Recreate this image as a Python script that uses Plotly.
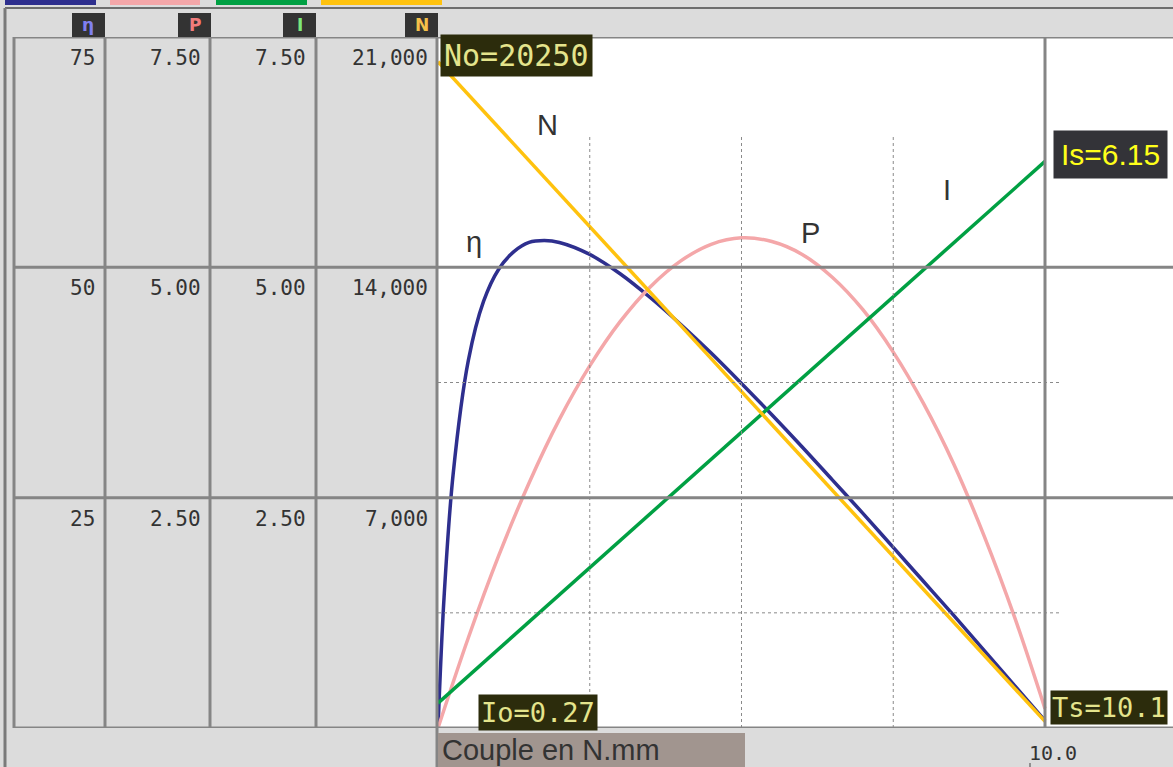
import plotly.graph_objects as go

# ---------------- data ----------------
torque = [0, 0.1, 0.25, 0.5, 0.75, 1, 1.25, 1.5, 1.75, 2, 2.5, 3, 3.5, 4, 4.5,
          5, 5.5, 6, 6.5, 7, 7.5, 8, 8.5, 9, 9.5, 10]
eta_pct = [0, 14.2, 27.6, 39.9, 46.3, 49.8, 51.7, 52.7, 52.9, 52.7, 51.4, 49.3,
           46.7, 43.8, 40.7, 37.4, 34.0, 30.5, 26.9, 23.3, 19.6, 15.9, 12.2,
           8.4, 4.6, 0.8]
torque_p = [0, 0.5, 1, 1.5, 2, 2.5, 3, 3.5, 4, 4.5, 5, 5.5, 6, 6.5, 7, 7.5, 8,
            8.5, 9, 9.5, 10]
power_w = [0, 0.98, 1.87, 2.66, 3.35, 3.93, 4.41, 4.79, 5.07, 5.25, 5.32, 5.28,
           5.14, 4.89, 4.54, 4.08, 3.52, 2.86, 2.08, 1.20, 0.21]
torque_lin = [0, 10]
current_a = [0.27, 6.15]
speed_rpm = [20250, 200]

eta_ticks = [75, 50, 25]
p_ticks = [7.5, 5.0, 2.5]
i_ticks = [7.5, 5.0, 2.5]
n_ticks = [21000, 14000, 7000]
x_tick = 10.0

W, H = 1173, 767
def px(x):
    return x / W
def py(y):
    return 1 - y / H

C_ETA = "#2e2f8e"
C_P = "#f4a7a9"
C_I = "#00a043"
C_N = "#ffc20e"
GRID = "#858585"

fig = go.Figure()
fig.add_trace(go.Scatter(x=torque_p, y=power_w, yaxis="y2", mode="lines",
                         line=dict(color=C_P, width=3.5, shape="spline"), name="P"))
fig.add_trace(go.Scatter(x=torque_lin, y=current_a, yaxis="y3", mode="lines",
                         line=dict(color=C_I, width=3.5), name="I"))
fig.add_trace(go.Scatter(x=torque_lin, y=speed_rpm, yaxis="y4", mode="lines",
                         line=dict(color=C_N, width=3.5), name="N"))
fig.add_trace(go.Scatter(x=torque, y=eta_pct, yaxis="y", mode="lines",
                         line=dict(color=C_ETA, width=3.5, shape="spline"), name="η"))

shapes = []
# top coloured bars
for x0, x1, c in [(5, 96, C_ETA), (110, 200, C_P), (216, 307, C_I), (321, 442, C_N)]:
    shapes.append(dict(type="rect", xref="paper", yref="paper", x0=px(x0), x1=px(x1),
                       y0=py(5), y1=1.0, fillcolor=c, line=dict(width=0), layer="below"))
# outer borders
shapes.append(dict(type="line", xref="paper", yref="paper", x0=px(5), x1=1, y0=py(8), y1=py(8),
                   line=dict(color="#6e6e6e", width=2)))
shapes.append(dict(type="line", xref="paper", yref="paper", x0=px(5), x1=px(5), y0=py(8), y1=0,
                   line=dict(color="#7a7a7a", width=3)))
# table background
shapes.append(dict(type="rect", xref="paper", yref="y", x0=px(14), x1=px(437), y0=0, y1=75,
                   fillcolor="#dcdcdc", line=dict(width=0), layer="below"))
# dotted grid
for v in [12.5, 37.5]:
    shapes.append(dict(type="line", xref="paper", yref="y", x0=px(438), x1=px(1060), y0=v, y1=v,
                       line=dict(color="#8a8a8a", width=1, dash="dot")))
for t in [2.5, 5.0, 7.5]:
    shapes.append(dict(type="line", xref="x", yref="paper", x0=t, x1=t, y0=py(728), y1=py(135),
                       line=dict(color="#8a8a8a", width=1, dash="dot")))
# solid grid
for v in [0, 25, 50, 75]:
    shapes.append(dict(type="line", xref="paper", yref="y", x0=px(14), x1=1, y0=v, y1=v,
                       line=dict(color=GRID, width=3)))
shapes.append(dict(type="line", xref="x", yref="y", x0=10, x1=10, y0=0, y1=75,
                   line=dict(color=GRID, width=3)))
for xc in [14, 105, 210, 316]:
    shapes.append(dict(type="line", xref="paper", yref="y", x0=px(xc), x1=px(xc), y0=0, y1=75,
                       line=dict(color=GRID, width=3)))
shapes.append(dict(type="line", xref="paper", yref="paper", x0=px(437), x1=px(437), y0=0, y1=py(37),
                   line=dict(color=GRID, width=3)))
# small mark under tick label
shapes.append(dict(type="line", xref="paper", yref="paper", x0=px(1030), x1=px(1030), y0=0, y1=py(763),
                   line=dict(color="#444", width=1)))
# header boxes
for x0 in [72, 178, 283, 405]:
    shapes.append(dict(type="rect", xref="paper", yref="paper", x0=px(x0), x1=px(x0 + 33),
                       y0=py(37), y1=py(13), fillcolor="#333333", line=dict(width=0)))
# x axis title box
shapes.append(dict(type="rect", xref="paper", yref="paper", x0=px(438), x1=px(745),
                   y0=0, y1=py(733), fillcolor="#a1958f", line=dict(width=0)))

ann = []
MONO = "DejaVu Sans Mono"
SANS = "Liberation Sans"
cols = [(97, "y", eta_ticks, "{:.0f}"), (203, "y2", p_ticks, "{:.2f}"),
        (308, "y3", i_ticks, "{:.2f}"), (430, "y4", n_ticks, "{:,.0f}")]
for xr, yr, ticks, fmt in cols:
    for v in ticks:
        ann.append(dict(x=px(xr), y=v, xref="paper", yref=yr, text=fmt.format(v),
                        showarrow=False, xanchor="right", yanchor="top", yshift=-7,
                        font=dict(family=MONO, size=21, color="#333333")))
for xc, txt, c in [(88.5, "η", "#8080f0"), (194.5, "P", "#f07c7c"), (299.5, "I", "#7ce87c"),
                   (421.5, "N", "#f5c04a")]:
    ann.append(dict(x=px(xc), y=py(25), xref="paper", yref="paper", text="<b>" + txt + "</b>",
                    showarrow=False, xanchor="center", yanchor="middle",
                    font=dict(family="DejaVu Sans", size=17, color=c)))
ann.append(dict(x=x_tick, y=py(739), xref="x", yref="paper", text="{:.1f}".format(x_tick),
                showarrow=False, xanchor="center", yanchor="top", xshift=8,
                font=dict(family=MONO, size=20, color="#333333")))
ann.append(dict(x=px(441), y=0, xref="paper", yref="paper", text="Couple en N.mm",
                showarrow=False, xanchor="left", yanchor="bottom", borderpad=0,
                font=dict(family=SANS, size=29, color="#333333")))
# value boxes
ann.append(dict(x=0, y=speed_rpm[0], xref="x", yref="y4", text="No=%d" % speed_rpm[0],
                showarrow=False, xanchor="left", yanchor="middle", xshift=2, yshift=6,
                bgcolor="#2c2c0c", borderpad=3,
                font=dict(family=MONO, size=30, color="#e4e48c")))
ann.append(dict(x=torque_lin[-1], y=current_a[-1], xref="x", yref="y3", text="Is=%.2f" % current_a[-1],
                showarrow=False, xanchor="left", yanchor="middle", xshift=8, yshift=7,
                bgcolor="#333338", borderpad=7,
                font=dict(family=SANS, size=30, color="#ffff1a")))
ann.append(dict(x=0, y=current_a[0], xref="x", yref="y3", text="Io=%.2f" % current_a[0],
                showarrow=False, xanchor="left", yanchor="middle", xshift=40, yshift=-9,
                bgcolor="#2c2c0c", borderpad=2,
                font=dict(family=MONO, size=27, color="#e4e48c")))
ann.append(dict(x=torque_lin[-1], y=0, xref="x", yref="y", text="Ts=10.1",
                showarrow=False, xanchor="left", yanchor="bottom", xshift=5, yshift=3,
                bgcolor="#2c2c0c", borderpad=1,
                font=dict(family=MONO, size=27, color="#e4e48c")))
# curve labels
for t, v, txt in [(1.81, 65.4, "N"), (0.59, 52.7, "η"), (6.13, 53.7, "P"), (8.39, 58.4, "I")]:
    ann.append(dict(x=t, y=v, xref="x", yref="y", text=txt, showarrow=False,
                    xanchor="center", yanchor="middle",
                    font=dict(family=SANS, size=29, color="#333333")))

ydom = [py(728), py(37)]
ax = dict(visible=False, showgrid=False, zeroline=False, fixedrange=True)
fig.update_layout(
    width=W, height=H, margin=dict(l=0, r=0, t=0, b=0),
    paper_bgcolor="#dcdcdc", plot_bgcolor="white", showlegend=False,
    xaxis=dict(domain=[px(438), 1], range=[0, (W - 438) / 60.7], **ax),
    yaxis=dict(domain=ydom, range=[0, 75], **ax),
    yaxis2=dict(domain=ydom, range=[0, 7.5], overlaying="y", **ax),
    yaxis3=dict(domain=ydom, range=[0, 7.5], overlaying="y", **ax),
    yaxis4=dict(domain=ydom, range=[0, 21000], overlaying="y", **ax),
    shapes=shapes, annotations=ann,
)
fig.write_html("out.html", config={"displayModeBar": False},
               post_script="document.body.style.margin='0';document.body.style.overflow='hidden';")
